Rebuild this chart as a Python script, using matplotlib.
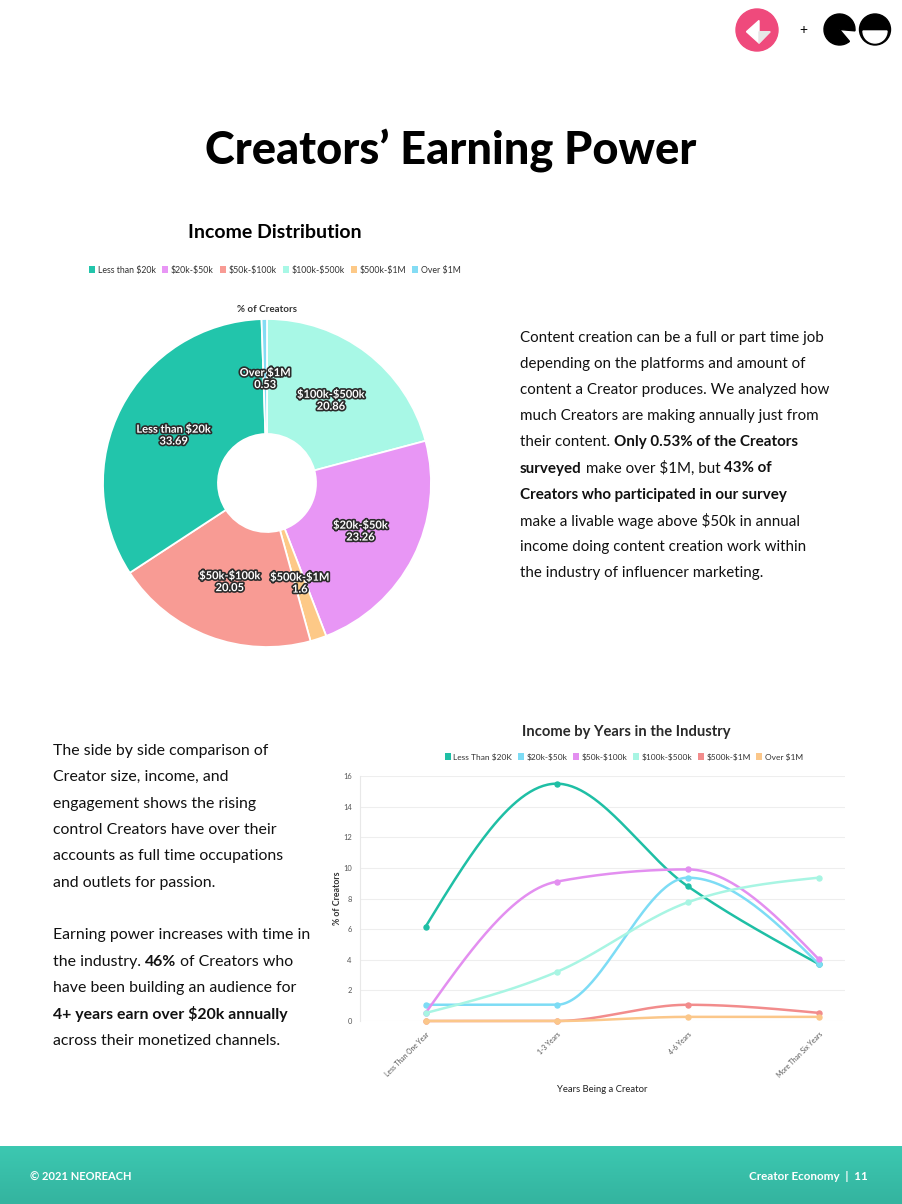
import numpy as np
import matplotlib
matplotlib.use('Agg')
import matplotlib.pyplot as plt
from matplotlib.patches import Patch, Circle, Wedge, Polygon
import matplotlib.patheffects as pe

plt.rcParams['font.family'] = ['Lato', 'DejaVu Sans']
plt.rcParams['text.parse_math'] = False

# ---- data ----
pie_labels = ['$100k-$500k', '$20k-$50k', '$500k-$1M', '$50k-$100k', 'Less than $20k', 'Over $1M']
pie_values = [20.86, 23.26, 1.6, 20.05, 33.69, 0.53]
pie_colors = ['#a8f8e6', '#e896f5', '#fdc987', '#f89b94', '#22c5ab', '#84dcf4']
pie_legend = ['Less than $20k', '$20k-$50k', '$50k-$100k', '$100k-$500k', '$500k-$1M', 'Over $1M']
pie_legend_colors = ['#22c5ab', '#e896f5', '#f89b94', '#a8f8e6', '#fdc987', '#84dcf4']

years = ['Less Than One Year', '1-3 Years', '4-6 Years', 'More Than Six Years']
series_names = ['Less Than $20K', '$20k-$50k', '$50k-$100k', '$100k-$500k', '$500k-$1M', 'Over $1M']
less_20k = [6.15, 15.5, 8.8, 3.72]
k20_50 = [1.06, 1.06, 9.36, 3.72]
k50_100 = [0.52, 9.1, 9.9, 4.03]
k100_500 = [0.52, 3.2, 7.75, 9.36]
k500_1m = [0.0, 0.0, 1.06, 0.53]
over_1m = [0.0, 0.0, 0.27, 0.27]
series_colors = ['#1fbfa5', '#7ddcf5', '#e38ff0', '#a8f5e3', '#f28c8c', '#fbc78a']


def monotone(x, y, n=60):
    # monotone cubic (same idea as d3 curveMonotoneX)
    x = np.asarray(x, float)
    y = np.asarray(y, float)
    h = np.diff(x)
    s = np.diff(y) / h
    m = np.zeros_like(y)
    for i in range(1, len(x) - 1):
        p = (s[i - 1] * h[i] + s[i] * h[i - 1]) / (h[i - 1] + h[i])
        m[i] = (np.sign(s[i - 1]) + np.sign(s[i])) * min(abs(s[i - 1]), abs(s[i]), 0.5 * abs(p))
    m[0] = (3 * s[0] - m[1]) / 2
    m[-1] = (3 * s[-1] - m[-2]) / 2
    xs, ys = [], []
    t = np.linspace(0, 1, n)
    for i in range(len(x) - 1):
        h00 = 2 * t**3 - 3 * t**2 + 1
        h10 = t**3 - 2 * t**2 + t
        h01 = -2 * t**3 + 3 * t**2
        h11 = t**3 - t**2
        xs.append(x[i] + t * h[i])
        ys.append(h00 * y[i] + h10 * h[i] * m[i] + h01 * y[i + 1] + h11 * h[i] * m[i + 1])
    return np.concatenate(xs), np.concatenate(ys)


fig = plt.figure(figsize=(9.02, 12.04), dpi=100)
bg = fig.add_axes([0, 0, 1, 1])
bg.set_xlim(0, 902)
bg.set_ylim(1204, 0)
bg.axis('off')
renderer = fig.canvas.get_renderer()


def seg_width(s, size, weight):
    a = bg.text(0, 0, '|' + s + '|', fontsize=size, weight=weight)
    b = bg.text(0, 0, '||', fontsize=size, weight=weight)
    w = a.get_window_extent(renderer).width - b.get_window_extent(renderer).width
    a.remove()
    b.remove()
    return w


def rich_line(x, y, parts, size=11.0, color='#111111'):
    for s, bold in parts:
        wt = 'bold' if bold else 'normal'
        bg.text(x, y, s, fontsize=size, weight=wt, color=color, va='center', ha='left')
        x += seg_width(s, size, wt)


# ---- logos ----
bg.add_patch(Circle((757, 30), 21, color='#ef4a7c'))
bg.add_patch(Polygon([(746.5, 31.7), (759, 20.5), (759, 31.7), (770, 31.7), (759, 43)], color='white'))
bg.add_patch(Polygon([(759, 31.7), (770, 31.7), (759, 43)], color='#e6e6e6'))
bg.text(803, 30, '+', fontsize=10, ha='center', va='center', color='black')
bg.add_patch(Wedge((839.5, 29.5), 15.5, 50, 365, color='black'))
bg.add_patch(Circle((875, 29.5), 15.5, color='black'))
bg.add_patch(Wedge((875, 31), 12, 0, 180, color='white'))

# ---- titles ----
bg.text(451, 150, 'Creators\u2019 Earning Power', fontsize=32.5, weight='black',
        ha='center', va='center', color='black')
bg.text(275, 233, 'Income Distribution', fontsize=14, weight='bold',
        ha='center', va='center', color='black')
bg.text(267, 310, '% of Creators', fontsize=7, weight='bold',
        ha='center', va='center', color='#333333')

# ---- pie ----
cx, cy, r = 267, 483, 164
pax = fig.add_axes([(cx - r) / 902, (1204 - cy - r) / 1204, 2 * r / 902, 2 * r / 1204])
wedges, _ = pax.pie(pie_values, colors=pie_colors, startangle=90, counterclock=False,
                    radius=1, wedgeprops=dict(width=1 - 49 / 164, edgecolor='white', linewidth=1.3))
pax.set_xlim(-1, 1)
pax.set_ylim(-1, 1)
pax.set_aspect('equal')
pax.axis('off')
stroke = [pe.withStroke(linewidth=2.4, foreground='#2b2b2b')]
for w, lab, v in zip(wedges, pie_labels, pie_values):
    ang = np.deg2rad((w.theta1 + w.theta2) / 2)
    pax.text(0.64 * np.cos(ang), 0.64 * np.sin(ang), f'{lab}\n{v:g}', ha='center', va='center',
             fontsize=8.0, weight='bold', color='white', linespacing=1.1, path_effects=stroke)

leg1 = [Patch(facecolor=c, edgecolor='none') for c in pie_legend_colors]
fig.legend(leg1, pie_legend, loc='center', bbox_to_anchor=(275 / 902, 1 - 270 / 1204), ncol=6,
           frameon=False, fontsize=6.3, handlelength=0.7, handleheight=0.9, handletextpad=0.3,
           columnspacing=0.7, labelcolor='#333333')

# ---- paragraphs ----
right_lines = [
    [('Content creation can be a full or part time job', False)],
    [('depending on the platforms and amount of', False)],
    [('content a Creator produces. We analyzed how', False)],
    [('much Creators are making annually just from', False)],
    [('their content. ', False), ('Only 0.53% of the Creators', True)],
    [('surveyed', True), (' make over $1M, but ', False), ('43% of', True)],
    [('Creators who participated in our survey', True)],
    [('make a livable wage above $50k in annual', False)],
    [('income doing content creation work within', False)],
    [('the industry of influencer marketing.', False)],
]
for i, parts in enumerate(right_lines):
    rich_line(520, 338 + i * 26.1, parts, size=10.9)

left_lines = [
    [('The side by side comparison of', False)],
    [('Creator size, income, and', False)],
    [('engagement shows the rising', False)],
    [('control Creators have over their', False)],
    [('accounts as full time occupations', False)],
    [('and outlets for passion.', False)],
    [],
    [('Earning power increases with time in', False)],
    [('the industry. ', False), ('46%', True), (' of Creators who', False)],
    [('have been building an audience for', False)],
    [('4+ years earn over $20k annually', True)],
    [('across their monetized channels.', False)],
]
for i, parts in enumerate(left_lines):
    rich_line(53, 751 + i * 26.35, parts, size=11.4)

# ---- line chart ----
lax = fig.add_axes([360 / 902, (1204 - 1021) / 1204, 485 / 902, 245 / 1204])
lax.set_facecolor('none')
xpos = np.arange(len(years))
all_series = [less_20k, k20_50, k50_100, k100_500, k500_1m, over_1m]
order = [5, 4, 3, 1, 2, 0]
for idx in order:
    vals, col = all_series[idx], series_colors[idx]
    sx, sy = monotone(xpos, vals)
    lax.plot(sx, sy, color=col, lw=1.8, clip_on=False, zorder=3 + idx * 0.1)
    lax.plot(xpos, vals, 'o', color=col, ms=3.6, clip_on=False, zorder=3.05 + idx * 0.1)
lax.set_xlim(-0.5, 3.2)
lax.set_ylim(0, 16)
lax.set_yticks(range(0, 17, 2))
lax.set_xticks(xpos)
lax.set_xticklabels(years, rotation=45, ha='right', va='top', rotation_mode='anchor')
lax.tick_params(axis='y', length=0, labelsize=5.4, labelcolor='#555555', pad=6)
lax.tick_params(axis='x', length=0, labelsize=4.9, labelcolor='#555555', pad=7)
lax.grid(axis='y', color='#eeeeee', lw=0.8)
lax.set_axisbelow(True)
for sp in ['top', 'right', 'bottom']:
    lax.spines[sp].set_visible(False)
lax.spines['left'].set_color('#e8e8e8')
lax.set_ylabel('% of Creators', fontsize=6.3, weight='bold', color='#333333', labelpad=1)
lax.set_xlabel('Years Being a Creator', fontsize=6.8, color='#222222', labelpad=4)
bg.text(626, 732, 'Income by Years in the Industry', fontsize=10.6, weight='bold',
        ha='center', va='center', color='#2a2a2a')
leg2 = [Patch(facecolor=c, edgecolor='none') for c in series_colors]
fig.legend(leg2, series_names, loc='center', bbox_to_anchor=(624 / 902, 1 - 757 / 1204), ncol=6,
           frameon=False, fontsize=6.0, handlelength=0.7, handleheight=0.9, handletextpad=0.3,
           columnspacing=0.7, labelcolor='#333333')

# ---- footer ----
grad = np.linspace(0, 1, 50).reshape(-1, 1)
cmap = matplotlib.colors.LinearSegmentedColormap.from_list('ft', ['#3cc8b1', '#34b49f'])
bg.imshow(grad, cmap=cmap, extent=(0, 902, 1204, 1146), aspect='auto', zorder=0)
bg.set_xlim(0, 902)
bg.set_ylim(1204, 0)
bg.text(30, 1177, '\u00a9 2021 NEOREACH', fontsize=8, weight='bold', color='white', va='center')
bg.text(868, 1177, 'Creator Economy  |  11', fontsize=8.4, weight='bold', color='white',
        va='center', ha='right')

fig.savefig('out.png', dpi=100)
